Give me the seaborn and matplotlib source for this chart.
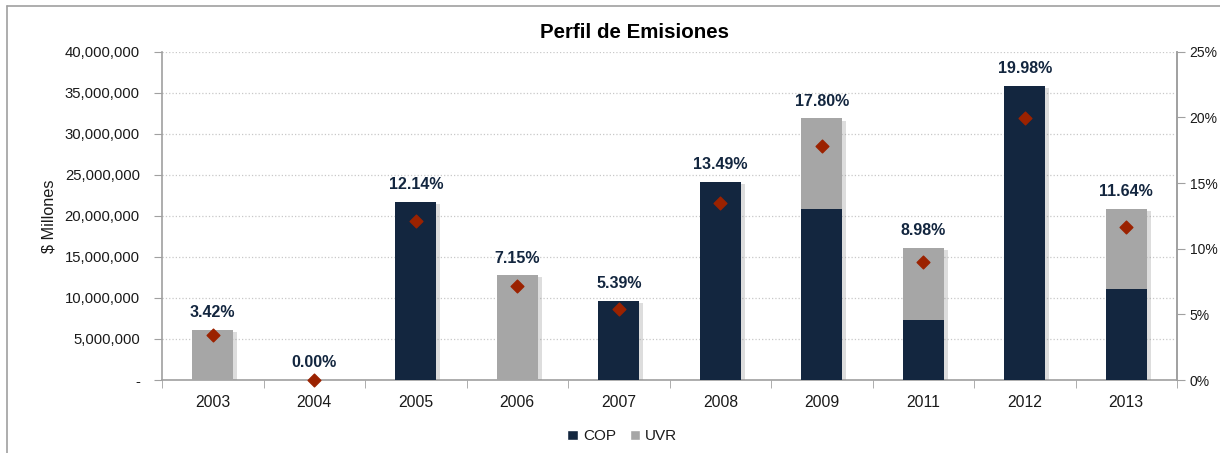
import matplotlib
matplotlib.use("Agg")
import matplotlib.pyplot as plt
import matplotlib.patheffects as pe
from matplotlib.patches import Patch
from matplotlib.lines import Line2D
from matplotlib.ticker import FuncFormatter, MultipleLocator
import seaborn as sns
import pandas as pd
import numpy as np

years = ["2003", "2004", "2005", "2006", "2007", "2008", "2009", "2011", "2012", "2013"]
cop = [0, 0, 21.7e6, 0, 9.62e6, 24.15e6, 20.83e6, 7.31e6, 35.8e6, 11.08e6]
uvr = [6.09e6, 0, 0, 12.75e6, 0, 0, 11.04e6, 8.77e6, 0, 9.75e6]
pct = [3.42, 0.00, 12.14, 7.15, 5.39, 13.49, 17.80, 8.98, 19.98, 11.64]

navy = "#13263F"
gray = "#A6A6A6"
red = "#9B2200"
txt = "#1a1a1a"

df = pd.DataFrame({"year": years, "COP": cop, "UVR": uvr, "pct": pct})
df["total"] = df["COP"] + df["UVR"]

sns.set_style("white")
plt.rcParams["font.family"] = ["Liberation Sans", "DejaVu Sans"]
plt.rcParams["text.color"] = txt
plt.rcParams["axes.labelcolor"] = txt

fig = plt.figure(figsize=(12.2, 4.53), dpi=100)
ax = fig.add_axes([0.1328, 0.1611, 0.8320, 0.7248])

# stacked bars: total in grey, COP in navy on top of it
shadow = [pe.SimplePatchShadow(offset=(3, -1.5), shadow_rgbFace="#909090", alpha=0.3), pe.Normal()]
sns.barplot(data=df, x="year", y="total", color=gray, width=0.4, saturation=1, linewidth=0, ax=ax, zorder=3)
sns.barplot(data=df, x="year", y="COP", color=navy, width=0.4, saturation=1, linewidth=0, ax=ax, zorder=3)
for i, bar in enumerate(ax.patches):
    if i < len(years):
        bar.set_path_effects(shadow)

ax.set_ylim(0, 40e6)
ax.set_xlim(-0.5, len(years) - 0.5)
ax.yaxis.set_major_locator(MultipleLocator(5e6))
ax.yaxis.set_major_formatter(FuncFormatter(lambda v, p: "-" if v == 0 else f"{v:,.0f}"))
ax.grid(axis="y", linestyle=":", color="#C8C8C8", linewidth=0.9, zorder=0)
ax.set_axisbelow(True)
ax.set_xlabel("")
ax.set_ylabel("$ Millones", fontsize=11.7, labelpad=6)
ax.tick_params(axis="y", labelsize=10.7, length=6, color="#A0A0A0", labelcolor=txt, direction="out", left=True, pad=10)
ax.tick_params(axis="x", labelsize=11.3, length=0, pad=11, labelcolor=txt)
ax.set_xticks(np.arange(len(years)), years)
ax.set_xticks(np.arange(len(years) + 1) - 0.5, minor=True)
ax.tick_params(axis="x", which="minor", length=6, color="#A0A0A0", direction="out", bottom=True)
for s in ["left", "bottom", "right"]:
    ax.spines[s].set_color("#A0A0A0")
    ax.spines[s].set_linewidth(1.2)
ax.spines["top"].set_visible(False)

for i, row in df.iterrows():
    ax.annotate(f"{row['pct']:.2f}%", (i, row["total"]), xytext=(0, 7), textcoords="offset points",
                ha="center", va="bottom", fontsize=11.5, fontweight="bold", color=navy, zorder=5)

ax2 = ax.twinx()
ax2.scatter(np.arange(len(years)), df["pct"], marker="D", s=42, color=red, zorder=6, clip_on=False)
ax2.set_ylim(0, 25)
ax2.yaxis.set_major_locator(MultipleLocator(5))
ax2.yaxis.set_major_formatter(FuncFormatter(lambda v, p: f"{v:.0f}%"))
ax2.tick_params(axis="y", labelsize=10, length=6, color="#A0A0A0", labelcolor=txt, direction="out", right=True, pad=3)
for s in ["left", "bottom", "right", "top"]:
    ax2.spines[s].set_visible(s == "right")
ax2.spines["right"].set_color("#A0A0A0")
ax2.spines["right"].set_linewidth(1.2)

fig.text(0.5197, 0.928, "Perfil de Emisiones", ha="center", va="center", fontsize=14.8, fontweight="bold", color="black")

handles = [Patch(facecolor=navy, label="COP"), Patch(facecolor=gray, label="UVR")]
fig.legend(handles=handles, loc="center", bbox_to_anchor=(0.51, 0.037), ncol=2, frameon=False,
           fontsize=11, handlelength=0.7, handleheight=0.7, handletextpad=0.3, columnspacing=0.9)

fig.add_artist(Line2D([0.0057, 1.0], [1 - 6 / 453, 1 - 6 / 453], color="#A0A0A0", linewidth=1.2))
fig.add_artist(Line2D([0.0057, 0.0057], [0.0, 1 - 6 / 453], color="#A0A0A0", linewidth=1.2))

fig.savefig("out.png", dpi=100)
